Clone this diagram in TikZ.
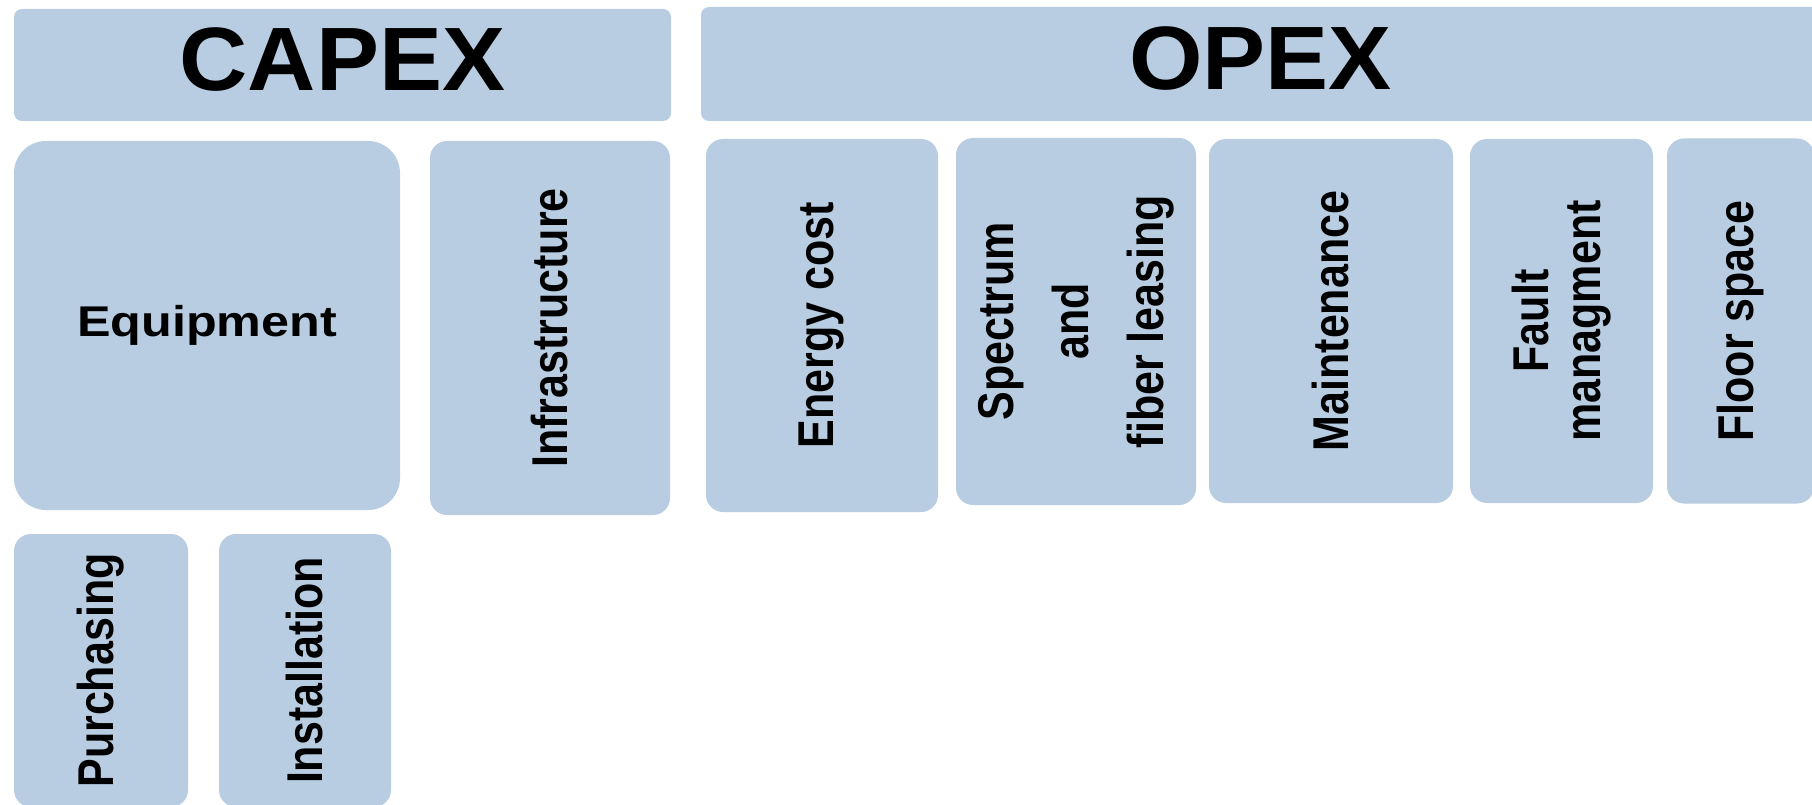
\documentclass[tikz,border=0pt]{standalone}
\usepackage{fontspec}
\setmainfont{Liberation Sans}
\usepackage{graphicx}

\definecolor{cellblue}{RGB}{184,205,226}
% the labels are a bit wider than the font
\newcommand{\hlab}[1]{\scalebox{1.17}[1]{#1}}
\newcommand{\vlab}[1]{\scalebox{1}[1.17]{#1}}

\begin{document}
\begin{tikzpicture}[x=1pt, y=-1pt,
  cell/.style={fill=cellblue, draw=none, rounded corners=17pt, inner sep=0pt,
    font=\bfseries\fontsize{43}{52}\selectfont, align=center},
  vcell/.style={cell, rotate=90},
  title/.style={font=\bfseries\fontsize{90}{100}\selectfont, inner sep=0pt}]
  \clip (0,0) rectangle (1812,805);
  \fill[white] (0,0) rectangle (1812,805);

  % Headers
  \node[cell, rounded corners=8pt, minimum width=657pt, minimum height=112pt] (capex) at (342.5,65) {};
  \node[title] (capextxt) at (342.5,60) {\scalebox{1.05}[1]{CAPEX}};
  \node[cell, rounded corners=8pt, minimum width=1129pt, minimum height=114pt] (opex) at (1265.5,64) {};
  \node[title] (opextxt) at (1260.5,58.5) {\scalebox{1.05}[1]{OPEX}};

  % CAPEX items
  \node[cell, rounded corners=32pt, minimum width=386pt, minimum height=369pt] (equip) at (207,325.5) {\hlab{Equipment}};
  \node[vcell, minimum width=374pt, minimum height=240pt] (infra) at (550,328) {\vlab{Infrastructure}};
  \node[vcell, minimum width=273pt, minimum height=174pt] (purch) at (101,670.5) {\vlab{Purchasing}};
  \node[vcell, minimum width=273pt, minimum height=172pt] (install) at (305,670.5) {\vlab{Installation}};

  % OPEX items
  \node[vcell, minimum width=373pt, minimum height=232pt] (energy) at (822,325.5) {\vlab{Energy cost}};
  \node[vcell, minimum width=367pt, minimum height=240pt] (spectrum) at (1076,321.5)
    {\vlab{Spectrum}\\[23pt]\vlab{and}\\[23pt]\vlab{fiber leasing}};
  \node[vcell, minimum width=364pt, minimum height=244pt] (maint) at (1331,321) {\vlab{Maintenance}};
  \node[vcell, minimum width=364pt, minimum height=183pt] (fault) at (1561.5,321) {\vlab{Fault}\\\vlab{managment}};
  \node[vcell, minimum width=365pt, minimum height=147pt] (floor) at (1740.5,321) {\vlab{Floor space}};
\end{tikzpicture}
\end{document}
